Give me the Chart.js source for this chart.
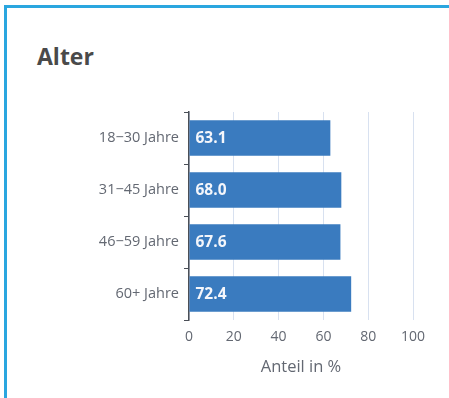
<!DOCTYPE html>
<html>
<head>
<meta charset="utf-8">
<script src="https://cdn.jsdelivr.net/npm/chart.js@4/dist/chart.umd.min.js"></script>
<style>
  html, body { margin: 0; padding: 0; width: 449px; height: 398px; overflow: hidden; background: #fff; }
  .card { position: absolute; left: 4px; top: 5px; width: 445px; height: 393px; border-top: 3px solid #2aa6df; border-left: 3px solid #2aa6df; box-sizing: border-box; }
  .title { position: absolute; left: 37px; top: 40px; margin: 0; font: bold 23px "Open Sans", sans-serif; color: #4a4a4a; line-height: 32px; }
  #chart { position: absolute; left: 0; top: 0; }
</style>
</head>
<body>
<div class="card"></div>
<h2 class="title">Alter</h2>
<canvas id="chart" width="449" height="398"></canvas>
<script>
const categories = ["18\u221230 Jahre", "31\u221245 Jahre", "46\u221259 Jahre", "60+ Jahre"];
const shares = [63.1, 68.0, 67.6, 72.4];
const xTicks = [0, 20, 40, 60, 80, 100];
const xTitle = "Anteil in %";

// Writes each bar's value in white at the start of the bar
const valueLabels = {
  id: 'valueLabels',
  afterDatasetsDraw(chart) {
    const ctx = chart.ctx;
    const meta = chart.getDatasetMeta(0);
    ctx.save();
    ctx.font = 'bold 15.5px "Open Sans", sans-serif';
    ctx.fillStyle = '#f4f6fb';
    ctx.textAlign = 'left';
    ctx.textBaseline = 'middle';
    meta.data.forEach((bar, i) => {
      const v = chart.data.datasets[0].data[i];
      ctx.fillText(v.toFixed(1), bar.base + 6, bar.y + 1);
    });
    ctx.restore();
  }
};

new Chart(document.getElementById('chart'), {
  type: 'bar',
  data: {
    labels: categories,
    datasets: [{
      data: shares,
      backgroundColor: '#3a7bbf',
      borderWidth: 0,
      categoryPercentage: 1.0,
      barPercentage: 0.68
    }]
  },
  options: {
    indexAxis: 'y',
    responsive: false,
    animation: false,
    layout: { padding: { left: 0, top: 112, right: 36, bottom: 0 } },
    plugins: { legend: { display: false }, tooltip: { enabled: false } },
    scales: {
      x: {
        min: 0,
        max: 100,
        afterBuildTicks(scale) { scale.ticks = xTicks.map(v => ({ value: v })); },
        afterFit(scale) { scale.height = 78; },
        grid: { color: '#d8e1f0', lineWidth: 1, drawTicks: false },
        border: { display: false },
        ticks: { color: '#636872', padding: 9, font: { family: '"Open Sans", sans-serif', size: 14 } },
        title: {
          display: true,
          text: xTitle,
          color: '#636872',
          font: { family: '"Open Sans", sans-serif', size: 16.5 },
          padding: { top: 4, bottom: 21 }
        }
      },
      y: {
        afterFit(scale) { scale.width = 189; },
        grid: { offset: true, drawOnChartArea: false, tickLength: 5, color: '#4a4f57', lineWidth: 1 },
        border: { display: true, color: '#4a4f57', width: 1.5 },
        ticks: { color: '#636872', padding: 5, font: { family: '"Open Sans", sans-serif', size: 14.5 } }
      }
    }
  },
  plugins: [valueLabels]
});
</script>
</body>
</html>
